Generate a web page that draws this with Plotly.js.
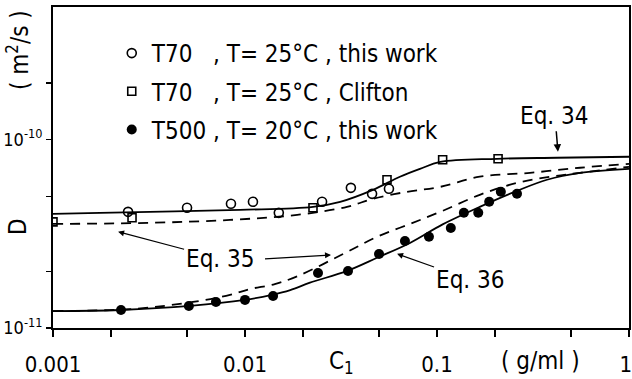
<!DOCTYPE html>
<html>
<head>
<meta charset="utf-8">
<script src="https://cdn.plot.ly/plotly-3.0.1.min.js"></script>
<style>
html,body{margin:0;padding:0;background:#fff;}
#chart{width:632px;height:379px;}
</style>
</head>
<body>
<div id="chart"></div>
<script>
// ---- data ----
// T70, T = 25 °C, this work (open circles)
const circX = [0.00246, 0.00499, 0.00845, 0.0110, 0.0150, 0.0252, 0.0356, 0.0459, 0.0562];
const circY = [4.14e-11, 4.35e-11, 4.57e-11, 4.68e-11, 4.09e-11, 4.68e-11, 5.55e-11, 5.16e-11, 5.49e-11];
// T70, T = 25 °C, Clifton (open squares)
const sqX = [0.001, 0.00258, 0.0226, 0.0549, 0.107, 0.208];
const sqY = [3.66e-11, 3.85e-11, 4.35e-11, 6.13e-11, 7.83e-11, 7.92e-11];
// T500, T = 20 °C, this work (filled circles)
const dotX = [0.00226, 0.0051, 0.00706, 0.0100, 0.0140, 0.0240, 0.0344, 0.0499, 0.0681, 0.0908, 0.118, 0.138, 0.164, 0.187, 0.215, 0.261];
const dotY = [1.246e-11, 1.31e-11, 1.375e-11, 1.41e-11, 1.48e-11, 1.96e-11, 2.01e-11, 2.47e-11, 2.90e-11, 3.05e-11, 3.40e-11, 4.09e-11, 4.09e-11, 4.68e-11, 5.29e-11, 5.16e-11];

// Eq. 34 (solid, T70)
const eq34X = [0.001, 0.00176, 0.00942, 0.0226, 0.0313, 0.0464, 0.0641, 0.0815, 0.104, 0.205, 0.422, 1.0];
const eq34Y = [4.04e-11, 4.09e-11, 4.24e-11, 4.40e-11, 4.68e-11, 5.42e-11, 6.36e-11, 7.00e-11, 7.62e-11, 7.92e-11, 8.02e-11, 8.12e-11];
// Eq. 35 (dashed, T70)
const eq35aX = [0.001, 0.0032, 0.00835, 0.0187, 0.0340, 0.0464, 0.0698, 0.104, 0.167, 0.305, 0.556, 1.0];
const eq35aY = [3.57e-11, 3.62e-11, 3.75e-11, 3.99e-11, 4.40e-11, 4.86e-11, 5.29e-11, 5.62e-11, 6.36e-11, 6.67e-11, 7.10e-11, 7.45e-11];
// Eq. 35 (dashed, T500)
const eq35bX = [0.001, 0.00261, 0.00536, 0.00835, 0.0106, 0.0143, 0.0189, 0.0324, 0.0487, 0.0723, 0.107, 0.167, 0.261, 0.388, 0.556, 1.0];
const eq35bY = [1.23e-11, 1.262e-11, 1.375e-11, 1.50e-11, 1.61e-11, 1.71e-11, 1.89e-11, 2.47e-11, 3.05e-11, 3.57e-11, 4.19e-11, 5.10e-11, 5.90e-11, 6.36e-11, 6.67e-11, 7.18e-11];
// Eq. 36 (solid, T500)
const eq36X = [0.001, 0.00223, 0.00517, 0.0100, 0.0138, 0.0172, 0.0218, 0.0340, 0.0487, 0.0723, 0.107, 0.167, 0.261, 0.374, 0.556, 1.0];
const eq36Y = [1.23e-11, 1.246e-11, 1.31e-11, 1.41e-11, 1.50e-11, 1.59e-11, 1.74e-11, 2.01e-11, 2.36e-11, 2.83e-11, 3.55e-11, 4.40e-11, 5.35e-11, 6.13e-11, 6.67e-11, 7.01e-11];

// ticks
const xTickVals = [0.001, 0.002, 0.005, 0.01, 0.02, 0.05, 0.1, 0.2, 0.5, 1];
const xTickText = ['0.001', '', '', '0.01', '', '', '0.1', '', '', '1\u2008'];
const yTickVals = [1e-11, 2e-11, 5e-11, 1e-10, 2e-10];
const yTickText = ['10<sup>-11</sup>', '', '', '10<sup>-10</sup>', ''];

const names = [
  'T70\u2007 , T= 25°C , this work',
  'T70\u2007 , T= 25°C , Clifton',
  'T500 , T= 20°C , this work'
];

const FONT = '"Liberation Sans Narrow", "DejaVu Sans Condensed", "Liberation Sans", sans-serif';
const FS = 24;
const lw = 1.8;

const traces = [
  {x: eq34X, y: eq34Y, mode: 'lines', line: {color: '#000', width: lw, shape: 'spline'}, showlegend: false, hoverinfo: 'skip'},
  {x: eq35aX, y: eq35aY, mode: 'lines', line: {color: '#000', width: lw, dash: '10px,7px', shape: 'spline'}, showlegend: false, hoverinfo: 'skip'},
  {x: eq35bX, y: eq35bY, mode: 'lines', line: {color: '#000', width: lw, dash: '10px,7px', shape: 'spline'}, showlegend: false, hoverinfo: 'skip'},
  {x: eq36X, y: eq36Y, mode: 'lines', line: {color: '#000', width: lw, shape: 'spline'}, showlegend: false, hoverinfo: 'skip'},
  {x: circX, y: circY, mode: 'markers', name: names[0], legendgroup: 'a',
   marker: {symbol: 'circle-open', size: 9, color: '#000', line: {width: 1.6, color: '#000'}}},
  {x: sqX, y: sqY, mode: 'markers', name: names[1], legendgroup: 'b',
   marker: {symbol: 'square-open', size: 8, color: '#000', line: {width: 1.6, color: '#000'}}},
  {x: dotX, y: dotY, mode: 'markers', name: names[2], legendgroup: 'c',
   marker: {symbol: 'circle', size: 10, color: '#000'}}
];

const L = 53, R = 629, T = 7, B = 328;
const px = v => (v - L) / (R - L);
const py = v => (B - v) / (B - T);
const layout = {
  width: 632, height: 379,
  margin: {l: L, r: 632 - R, t: T, b: 379 - B, pad: 0},
  paper_bgcolor: '#fff', plot_bgcolor: '#fff',
  font: {family: FONT, size: FS, color: '#000'},
  showlegend: true,
  legend: {
    x: 0.102, y: py(31), xanchor: 'left', yanchor: 'top',
    bgcolor: 'rgba(0,0,0,0)', borderwidth: 0,
    font: {family: FONT, size: FS, color: '#000'},
    traceorder: 'grouped', tracegroupgap: 4, itemwidth: 30
  },
  xaxis: {
    type: 'log', range: [-3, 0], showgrid: false, zeroline: false,
    showline: true, linecolor: '#000', linewidth: 2, mirror: true,
    ticks: 'outside', ticklen: 7, tickwidth: 1.5, tickcolor: '#000',
    tickmode: 'array', tickvals: xTickVals, ticktext: xTickText,
    tickfont: {family: FONT, size: 22, color: '#000'}, ticklabelstandoff: 9,
    ticklabeloverflow: 'allow'
  },
  yaxis: {
    type: 'log', range: [-11, -9.295], showgrid: false, zeroline: false,
    showline: true, linecolor: '#000', linewidth: 2, mirror: true,
    ticks: 'outside', ticklen: 5, tickwidth: 1.5, tickcolor: '#000',
    tickmode: 'array', tickvals: yTickVals, ticktext: yTickText,
    tickfont: {family: FONT, size: 18, color: '#000'}, ticklabelstandoff: 0,
    ticklabeloverflow: 'allow'
  },
  annotations: [
    {xref: 'paper', yref: 'paper', x: px(18), y: py(227), xanchor: 'center', yanchor: 'middle',
     text: 'D', textangle: -90, showarrow: false, font: {size: FS}},
    {xref: 'paper', yref: 'paper', x: px(18), y: py(50), xanchor: 'center', yanchor: 'middle',
     text: '( m<sup>2</sup>/s )', textangle: -90, showarrow: false, font: {size: FS}},
    {xref: 'paper', yref: 'paper', x: px(341), y: py(362), xanchor: 'center', yanchor: 'middle',
     text: 'C<sub>1</sub>', showarrow: false, font: {size: FS}},
    {xref: 'paper', yref: 'paper', x: px(540), y: py(361), xanchor: 'center', yanchor: 'middle',
     text: '( g/ml )', showarrow: false, font: {size: FS}},
    {xref: 'x', yref: 'y', x: -0.370, y: -10.064, text: 'Eq. 34', showarrow: true,
     ax: -3, ay: -36, arrowhead: 2, arrowsize: 1, arrowwidth: 1.5, arrowcolor: '#000', font: {size: FS}},
    {xref: 'x', yref: 'y', x: -2.661, y: -10.489, text: 'Eq. 35', showarrow: true,
     ax: 102, ay: 27, arrowhead: 2, arrowsize: 1, arrowwidth: 1.2, arrowcolor: '#000', font: {size: FS}},
    {xref: 'x', yref: 'y', x: -1.552, y: -10.612, text: ' ', showarrow: true,
     ax: -68, ay: 4, arrowhead: 2, arrowsize: 1, arrowwidth: 1.2, arrowcolor: '#000', font: {size: 2}},
    {xref: 'x', yref: 'y', x: -1.208, y: -10.606, text: 'Eq. 36', showarrow: true,
     ax: 73, ay: 26, arrowhead: 2, arrowsize: 1, arrowwidth: 1.2, arrowcolor: '#000', font: {size: FS}}
  ]
};

Plotly.newPlot('chart', traces, layout, {staticPlot: true, displayModeBar: false});
</script>
</body>
</html>
